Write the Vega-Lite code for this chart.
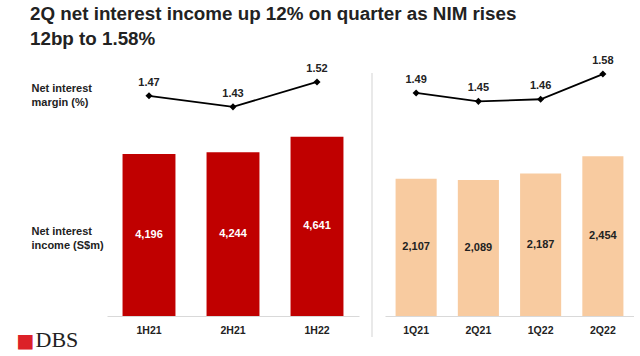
{
  "$schema": "https://vega.github.io/schema/vega-lite/v6.json",
  "padding": {"left": 16, "top": 5, "right": 0, "bottom": 0},
  "background": "white",
  "title": {
    "text": ["2Q net interest income up 12% on quarter as NIM rises", "12bp to 1.58%"],
    "anchor": "start", "dx": 14, "fontSize": 18.8, "font": "Liberation Sans", "fontWeight": "bold",
    "color": "#222222", "lineHeight": 25, "offset": 3
  },
  "config": {
    "view": {"stroke": null},
    "font": "Liberation Sans",
    "axis": {"grid": false}
  },
  "datasets": {
    "half": [
      {"period": "1H21", "nim": 1.47, "income": 4196},
      {"period": "2H21", "nim": 1.43, "income": 4244},
      {"period": "1H22", "nim": 1.52, "income": 4641}
    ],
    "quarter": [
      {"period": "1Q21", "nim": 1.49, "income": 2107},
      {"period": "2Q21", "nim": 1.45, "income": 2089},
      {"period": "1Q22", "nim": 1.46, "income": 2187},
      {"period": "2Q22", "nim": 1.58, "income": 2454}
    ]
  },
  "spacing": 12,
  "hconcat": [
    {
      "width": 252,
      "height": 264,
      "data": {"name": "half"},
      "layer": [
        {
          "encoding": {
            "x": {
              "field": "period", "type": "nominal", "sort": null,
              "scale": {"paddingInner": 0.37, "paddingOuter": 0.185},
              "axis": {
                "orient": "bottom", "title": "■", "titleColor": "#dc2128", "titleFont": "DejaVu Sans",
                "titleFontSize": 19, "titleFontWeight": "normal", "titleX": -91, "titleY": 30,
                "titleAlign": "left", "titleBaseline": "alphabetic",
                "labels": false, "ticks": false, "domain": false
              }
            },
            "y": {
              "field": "nim", "type": "quantitative",
              "scale": {"domain": [0.675, 1.628], "nice": false, "zero": false},
              "axis": {
                "orient": "left", "title": ["Net interest", "margin (%)"], "titleAngle": 0,
                "titleX": -76, "titleY": 39, "titleAlign": "left", "titleBaseline": "alphabetic",
                "titleFontSize": 11, "titleFontWeight": "bold", "titleColor": "#222222", "titleLineHeight": 14,
                "labels": false, "ticks": false, "domain": false
              }
            }
          },
          "layer": [
            {"mark": {"type": "line", "color": "#000000", "strokeWidth": 1.8,
              "point": {"shape": "diamond", "size": 50, "filled": true, "color": "#000000"}}},
            {"mark": {"type": "text", "dy": -13, "fontSize": 11, "fontWeight": "bold", "color": "#222222"},
              "encoding": {"text": {"field": "nim", "type": "quantitative", "format": ".2f"}}}
          ]
        },
        {
          "mark": {"type": "bar", "color": "#c00000"},
          "encoding": {
            "x": {
              "field": "period", "type": "nominal", "sort": null,
              "axis": {
                "orient": "bottom", "title": "DBS", "titleFont": "Liberation Serif", "titleFontSize": 22,
                "titleFontWeight": "normal", "titleColor": "#222222", "titleX": -72, "titleY": 30,
                "titleAlign": "left", "titleBaseline": "alphabetic",
                "labelAngle": 0, "labelFontSize": 10.5, "labelFontWeight": "bold", "labelColor": "#222222",
                "labelPadding": 9, "ticks": false, "domainColor": "#d9d9d9"
              }
            },
            "y": {
              "field": "income", "type": "quantitative",
              "scale": {"domain": [0, 6840], "nice": false},
              "axis": {
                "orient": "left", "title": ["Net interest", "income (S$m)"], "titleAngle": 0,
                "titleX": -76, "titleY": 182, "titleAlign": "left", "titleBaseline": "alphabetic",
                "titleFontSize": 11, "titleFontWeight": "bold", "titleColor": "#222222", "titleLineHeight": 14,
                "labels": false, "ticks": false, "domain": false
              }
            }
          }
        },
        {
          "mark": {"type": "text", "color": "#ffffff", "fontSize": 11, "fontWeight": "bold"},
          "encoding": {
            "x": {"field": "period", "type": "nominal", "sort": null, "axis": null},
            "y": {"field": "income", "type": "quantitative", "scale": {"domain": [0, 13680], "nice": false}, "axis": null},
            "text": {"field": "income", "type": "quantitative", "format": ",d"}
          }
        }
      ],
      "resolve": {"scale": {"y": "independent"}, "axis": {"x": "independent"}}
    },
    {
      "width": 2,
      "height": 264,
      "data": {"values": [{}]},
      "mark": {"type": "rule", "color": "#e2e2e2", "strokeWidth": 1.5},
      "encoding": {
        "x": {"datum": 0, "type": "quantitative", "scale": {"domain": [-1, 1]}, "axis": null},
        "y": {"datum": 243, "type": "quantitative", "scale": {"domain": [0, 264], "nice": false}, "axis": null},
        "y2": {"datum": -21}
      }
    },
    {
      "width": 249,
      "height": 264,
      "data": {"name": "quarter"},
      "encoding": {
        "x": {
          "field": "period", "type": "nominal", "sort": null,
          "scale": {"paddingInner": 0.34, "paddingOuter": 0.17},
          "axis": {
            "orient": "bottom", "title": null,
            "labelAngle": 0, "labelFontSize": 10.5, "labelFontWeight": "bold", "labelColor": "#222222",
            "labelPadding": 9, "ticks": false, "domainColor": "#d9d9d9"
          }
        }
      },
      "layer": [
        {
          "encoding": {
            "y": {"field": "nim", "type": "quantitative",
              "scale": {"domain": [0.428, 1.685], "nice": false, "zero": false}, "axis": null}
          },
          "layer": [
            {"mark": {"type": "line", "color": "#000000", "strokeWidth": 1.8,
              "point": {"shape": "diamond", "size": 50, "filled": true, "color": "#000000"}}},
            {"mark": {"type": "text", "dy": -13, "fontSize": 11, "fontWeight": "bold", "color": "#222222"},
              "encoding": {"text": {"field": "nim", "type": "quantitative", "format": ".2f"}}}
          ]
        },
        {
          "mark": {"type": "bar", "color": "#f8cba0"},
          "encoding": {
            "y": {"field": "income", "type": "quantitative", "scale": {"domain": [0, 4055], "nice": false}, "axis": null}
          }
        },
        {
          "mark": {"type": "text", "color": "#222222", "fontSize": 11, "fontWeight": "bold"},
          "encoding": {
            "y": {"field": "income", "type": "quantitative", "scale": {"domain": [0, 8110], "nice": false}, "axis": null},
            "text": {"field": "income", "type": "quantitative", "format": ",d"}
          }
        }
      ],
      "resolve": {"scale": {"y": "independent"}}
    }
  ]
}
